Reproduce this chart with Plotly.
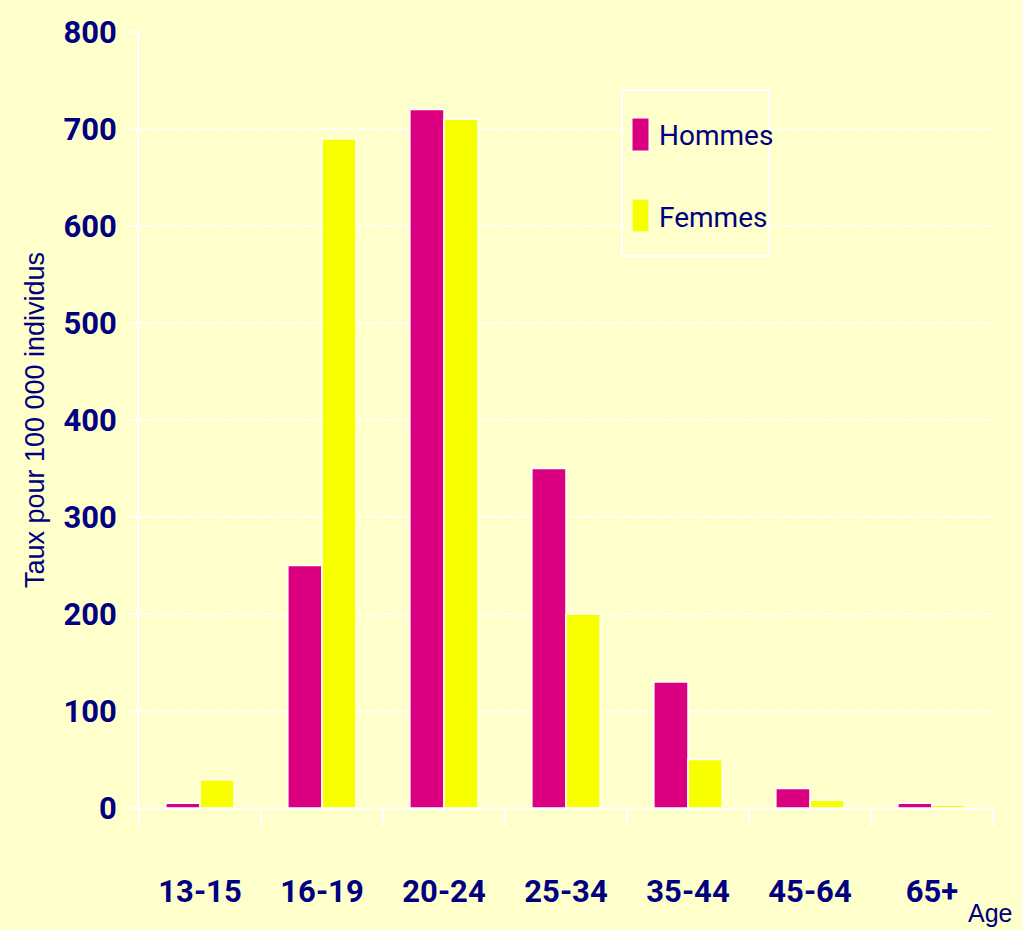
import plotly.graph_objects as go

# Age groups and rates per 100 000 inhabitants
age_groups = ["13-15", "16-19", "20-24", "25-34", "35-44", "45-64", "65+"]
hommes = [5, 250, 720, 350, 130, 20, 5]
femmes = [29, 690, 710, 200, 50, 8, 3]

series_names = ["Hommes", "Femmes"]
series_colors = ["#DB0080", "#F8FF00"]

y_ticks = [0, 100, 200, 300, 400, 500, 600, 700, 800]

BG = "#FFFFCC"
INK = "#000080"
TICK_FONT = "Roboto, Liberation Sans, sans-serif"
TEXT_FONT = "Liberation Sans, Arial, sans-serif"

W, H = 1022, 930
M_L, M_R, M_T, M_B = 139, 29, 32, 122
PW, PH = W - M_L - M_R, H - M_T - M_B


def px_x(x):
    return (x - M_L) / PW


def px_y(y):
    return (H - M_B - y) / PH


fig = go.Figure()
for name, vals, col in zip(series_names, [hommes, femmes], series_colors):
    fig.add_trace(go.Bar(
        x=age_groups, y=vals, name=name,
        marker=dict(color=col, line=dict(color="white", width=1.5)),
        showlegend=False,
    ))

# Framed legend drawn in paper coordinates
shapes = [dict(type="rect", xref="paper", yref="paper",
               x0=px_x(622), x1=px_x(769), y0=px_y(256), y1=px_y(90),
               line=dict(color="white", width=2), fillcolor=BG, layer="above")]
annotations = []
for i, (name, col) in enumerate(zip(series_names, series_colors)):
    top = 118 + i * 81
    shapes.append(dict(type="rect", xref="paper", yref="paper",
                       x0=px_x(632), x1=px_x(649), y0=px_y(top + 33), y1=px_y(top),
                       line=dict(color="white", width=1), fillcolor=col, layer="above"))
    annotations.append(dict(xref="paper", yref="paper", x=px_x(657), y=px_y(top + 18),
                            xanchor="left", yanchor="middle", showarrow=False,
                            text=name, font=dict(family=TICK_FONT, size=28, color=INK)))

annotations.append(dict(xref="paper", yref="paper", x=px_x(990), y=px_y(929),
                        xanchor="center", yanchor="bottom", showarrow=False,
                        text="Age", font=dict(family=TEXT_FONT, size=25, color=INK)))

fig.update_layout(
    width=W, height=H,
    margin=dict(l=M_L, r=M_R, t=M_T, b=M_B),
    paper_bgcolor=BG, plot_bgcolor=BG,
    barmode="group", bargap=0.44, bargroupgap=0,
    shapes=shapes, annotations=annotations,
    xaxis=dict(
        automargin=False,
        showgrid=False, showline=True, linecolor="white", linewidth=2,
        ticks="outside", tickson="boundaries", ticklen=17, tickwidth=2, tickcolor="white",
        tickfont=dict(family=TICK_FONT, size=31, color=INK, weight="bold"),
        ticklabelstandoff=55,
    ),
    yaxis=dict(
        automargin=False,
        range=[0, 800], tickvals=y_ticks,
        showgrid=True, gridcolor="white", gridwidth=1.5, griddash="3px,2px",
        showline=True, linecolor="white", linewidth=2,
        ticks="outside", ticklen=8, tickwidth=2, tickcolor="white",
        tickfont=dict(family=TICK_FONT, size=31, color=INK, weight="bold"),
        ticklabelstandoff=6, zeroline=False,
        title=dict(text="Taux pour 100 000 individus",
                   font=dict(family=TEXT_FONT, size=27, color=INK),
                   standoff=11),
    ),
)

fig.write_html("out.html")
